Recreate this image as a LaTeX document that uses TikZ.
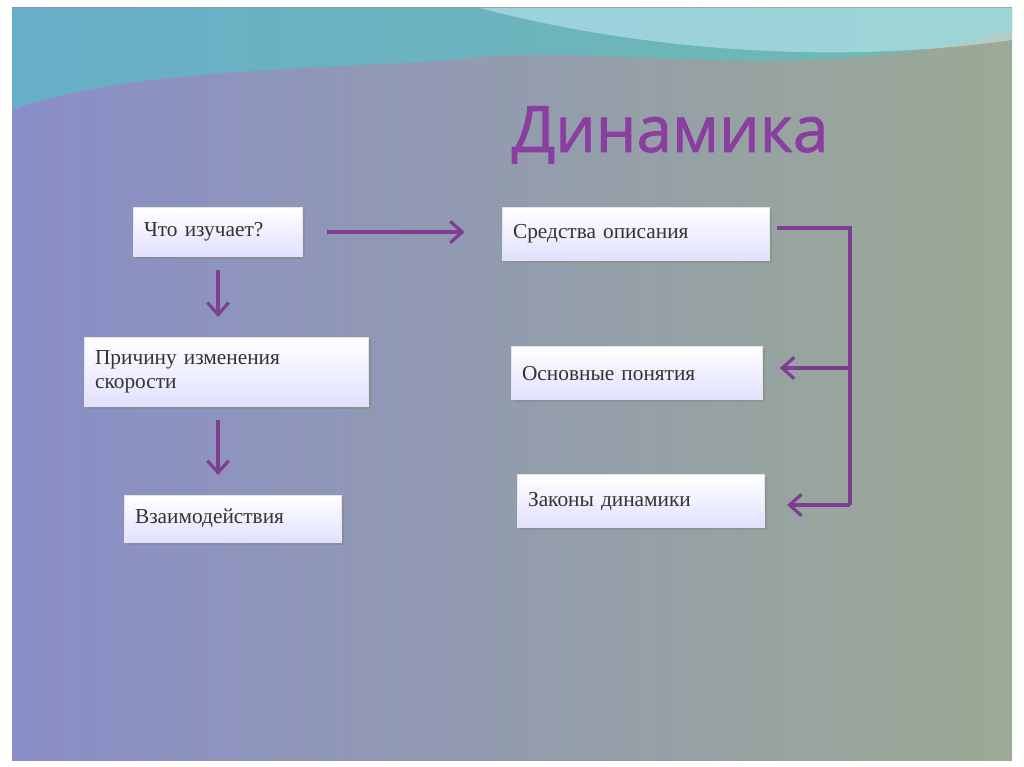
\documentclass[tikz,border=0pt]{standalone}
\usepackage{fontspec}
\setmainfont{Liberation Serif}
\newfontfamily\titlefont[FakeBold=1.2]{Open Sans}
\usetikzlibrary{arrows.meta,shadows}
\definecolor{arr}{HTML}{7E3F92}
\definecolor{ttl}{HTML}{8A3FA0}
\definecolor{bgl}{HTML}{8A8EC8}
\definecolor{bgr}{HTML}{9BAA94}
\begin{document}
\begin{tikzpicture}[x=0.75pt,y=-0.75pt,
  box/.style={draw=white!80!gray,line width=0.6pt,top color=white,bottom color=blue!12,drop shadow={shadow xshift=2pt,shadow yshift=-2pt,opacity=0.4},font=\fontsize{16}{18}\selectfont,align=left,anchor=north west,inner xsep=8pt,inner ysep=0pt,text=black!80},
  ar/.style={draw=arr,line width=2.4pt,-{Straight Barb[length=9pt,width=16pt,line width=2.4pt]}},
  ln/.style={draw=arr,line width=2.4pt}]
\useasboundingbox (0,0) rectangle (1024,767);
\fill[white] (0,0) rectangle (1024,767);
\shade[left color=bgl,right color=bgr] (12,8) rectangle (1012,760);
\fill[teal!60!cyan!70!white,opacity=0.55] (12,8) -- (1012,8) -- (1012,30) .. controls (800,90) and (600,40) .. (450,60) .. controls (300,70) and (120,70) .. (12,110) -- cycle;
\fill[cyan!20!white,opacity=0.5] (480,8) .. controls (600,40) and (800,70) .. (1012,40) -- (1012,8) -- cycle;
\node[font=\titlefont\fontsize{48}{52}\selectfont,text=ttl] (t) at (670,135) {Динамика};
\node[box,text width=111pt,minimum height=37pt] (a) at (133,207) {Что изучает?};
\node[box,text width=184pt,minimum height=40pt] (b) at (502,207) {Средства описания};
\node[box,text width=197pt,minimum height=52pt] (c) at (84,337) {Причину изменения\\скорости};
\node[box,text width=172pt,minimum height=40pt] (d) at (511,346) {Основные понятия};
\node[box,text width=147pt,minimum height=35pt] (e) at (124,495) {Взаимодействия};
\node[box,text width=169pt,minimum height=40pt] (f) at (517,474) {Законы динамики};
\coordinate (p1) at (850,228);
\coordinate (p2) at (850,368);
\coordinate (p3) at (850,505);
\draw[ar] ([xshift=18pt]a.east) -- ([xshift=-28pt]b.west |- a.east);
\draw[ar] ([yshift=-10pt]a.south) -- ([yshift=15pt]a.south |- c.north);
\draw[ar] ([yshift=-10pt]c.south -| a.south) -- ([yshift=15pt]a.south |- e.north);
\draw[ln] ([xshift=6pt]b.east |- p1) -- (p1) -- (p3);
\draw[ar] (p2) -- ([xshift=13pt]d.east |- p2);
\draw[ar] (p3) -- ([xshift=17pt]f.east |- p3);
\end{tikzpicture}
\end{document}
